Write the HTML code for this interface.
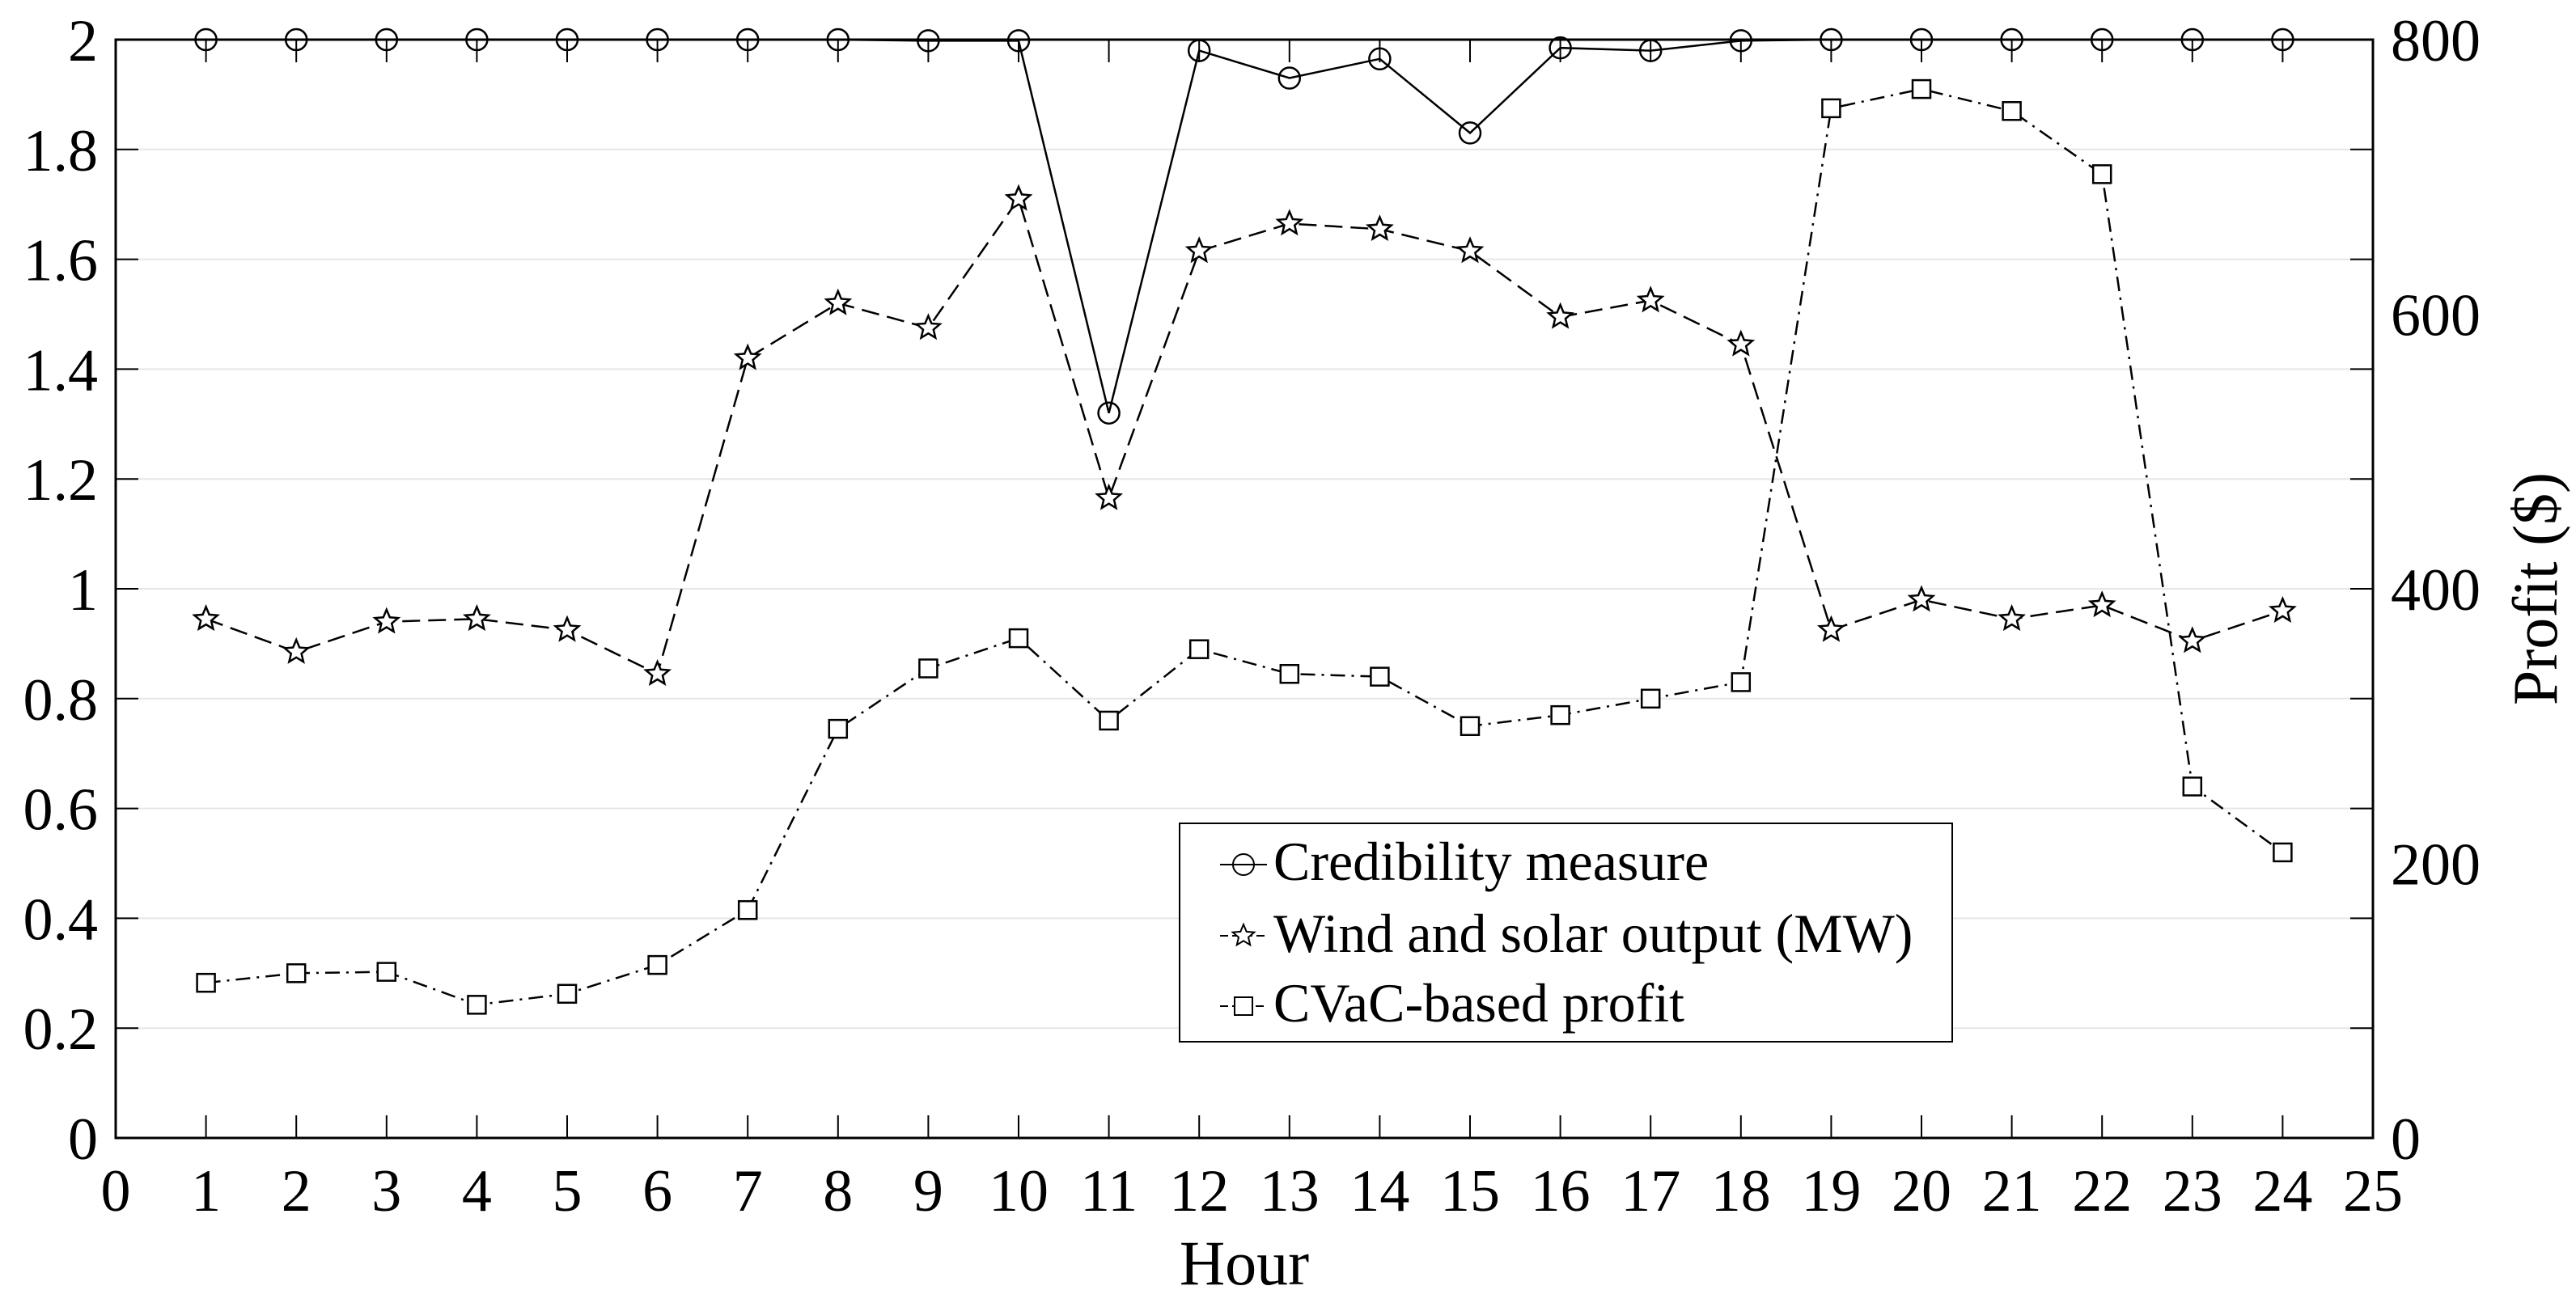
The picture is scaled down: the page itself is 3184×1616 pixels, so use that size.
<!DOCTYPE html>
<html><head><meta charset="utf-8"><style>
html,body{margin:0;padding:0;background:#fff}
svg{display:block}
svg text{font-family:"Liberation Serif","Times New Roman","DejaVu Serif",serif}
</style></head><body>
<svg id="chart" width="3184" height="1616" viewBox="0 0 3184 1616" xmlns="http://www.w3.org/2000/svg" font-family="Liberation Serif, Times New Roman, DejaVu Serif, serif">
<g id="grid"></g>
<g id="axes"></g>
<g id="series"></g>
<text x="1538" y="1588" font-size="78" font-family="Liberation Serif, serif" text-anchor="middle">Hour</text>
<text x="0" y="0" font-size="78" font-family="Liberation Serif, serif" text-anchor="middle" transform="translate(3160,728) rotate(-90)">Profit ($)</text>
<g>
<rect x="1458" y="1018" width="955" height="270" fill="#fff" stroke="#000" stroke-width="2"/>
<g>
<line x1="1508" y1="1069" x2="1566" y2="1069" stroke="#000" stroke-width="2"/>
<circle cx="1537" cy="1069" r="13" fill="none" stroke="#000" stroke-width="2"/>
<text x="1574" y="1088" font-size="68" font-family="Liberation Serif, serif">Credibility measure</text></g>
<g>
<line x1="1508" y1="1157" x2="1566" y2="1157" stroke="#000" stroke-width="2" stroke-dasharray="10,5"/>
<polygon id="legStar" points="" fill="#fff" stroke="#000" stroke-width="2"/>
<text x="1574" y="1177" font-size="68" font-family="Liberation Serif, serif">Wind and solar output (MW)</text></g>
<g>
<line x1="1508" y1="1244" x2="1566" y2="1244" stroke="#000" stroke-width="2" stroke-dasharray="10,5,2,5"/>
<rect x="1526" y="1233" width="22" height="22" fill="#fff" stroke="#000" stroke-width="2"/>
<text x="1574" y="1263" font-size="68" font-family="Liberation Serif, serif">CVaC-based profit</text></g>
</g>
</svg>
<script>
const hours = [1,2,3,4,5,6,7,8,9,10,11,12,13,14,15,16,17,18,19,20,21,22,23,24];
const credibility = [2,2,2,2,2,2,2,2,1.998,1.998,1.32,1.98,1.93,1.965,1.83,1.985,1.98,1.998,2,2,2,2,2,2];
const windSolar = [0.945,0.885,0.94,0.945,0.925,0.845,1.42,1.52,1.475,1.71,1.165,1.615,1.665,1.655,1.615,1.495,1.525,1.445,0.925,0.98,0.945,0.97,0.905,0.96];
const profit = [113,120,121,97,105,126,166,298,342,364,304,356,338,336,300,308,320,332,750,764,748,702,256,208];
const xTicks = [0,1,2,3,4,5,6,7,8,9,10,11,12,13,14,15,16,17,18,19,20,21,22,23,24,25];
const yLeftTicks = [0,0.2,0.4,0.6,0.8,1,1.2,1.4,1.6,1.8,2];
const yRightTicks = [0,200,400,600,800];

const L=143,R=2933,T=49,B=1407;
const NS='http://www.w3.org/2000/svg';
const FF='Liberation Serif, Times New Roman, DejaVu Serif, serif';
const xS=v=>L+(v-0)/25*(R-L);
const yL=v=>B-(v/2)*(B-T);
const yR=v=>B-(v/800)*(B-T);
function mk(tag,attrs,parent){const e=document.createElementNS(NS,tag);for(const k in attrs)e.setAttribute(k,attrs[k]);parent.appendChild(e);return e;}
const grid=document.getElementById('grid'),axes=document.getElementById('axes'),series=document.getElementById('series');
function starPts(cx,cy,r){let p=[];for(let i=0;i<10;i++){const a=-Math.PI/2+i*Math.PI/5;const rr=i%2?r*0.45:r;p.push((cx+rr*Math.cos(a)).toFixed(1)+','+(cy+rr*Math.sin(a)).toFixed(1));}return p.join(' ');}
document.getElementById('legStar').setAttribute('points',starPts(1537,1157,14));

yLeftTicks.forEach(v=>{
  const y=yL(v);
  if(v>0&&v<2){const g=mk('line',{x1:L,x2:R,y1:y,y2:y,stroke:'#e6e6e6','stroke-width':2},grid);
  
  }
  const t=mk('line',{x1:L,x2:L+28,y1:y,y2:y,stroke:'#000','stroke-width':2},axes);
  
  
  const t2=mk('line',{x1:R-28,x2:R,y1:y,y2:y,stroke:'#000','stroke-width':2},axes);
  
  
  const lb=mk('text',{x:L-22,y:y+26,'font-size':74,'font-family':FF,'text-anchor':'end'},axes);
  lb.textContent=String(v);
  
  
});
yRightTicks.forEach(v=>{
  const y=yR(v);
  const lb=mk('text',{x:R+22,y:y+26,'font-size':74,'font-family':FF,'text-anchor':'start'},axes);
  lb.textContent=String(v);
  
  
});
xTicks.forEach(v=>{
  const x=xS(v);
  const t=mk('line',{x1:x,x2:x,y1:B,y2:B-28,stroke:'#000','stroke-width':2},axes);
  
  
  const t2=mk('line',{x1:x,x2:x,y1:T,y2:T+28,stroke:'#000','stroke-width':2},axes);
  
  
  const lb=mk('text',{x:x,y:1497,'font-size':74,'font-family':FF,'text-anchor':'middle'},axes);
  lb.textContent=String(v);
  
  
});
const frame=mk('rect',{x:L,y:T,width:R-L,height:B-T,fill:'none',stroke:'#000','stroke-width':3},axes);



function drawLine(vals,ys,dash,name){
  const pts=vals.map((v,i)=>xS(hours[i]).toFixed(1)+','+ys(v).toFixed(1)).join(' ');
  const pl=mk('polyline',{points:pts,fill:'none',stroke:'#000','stroke-width':2.5},series);
  if(dash)pl.setAttribute('stroke-dasharray',dash);
  
  
}
drawLine(credibility,yL,null,'credibility-line');
drawLine(windSolar,yL,'22,10','wind-solar-line');
drawLine(profit,yR,'18,8,3,8','profit-line');
credibility.forEach((v,i)=>{
  const c=mk('circle',{cx:xS(hours[i]),cy:yL(v),r:13,fill:'none',stroke:'#000','stroke-width':2.5},series);
  
  
});
windSolar.forEach((v,i)=>{
  const s=mk('polygon',{points:starPts(xS(hours[i]),yL(v),15),fill:'#fff',stroke:'#000','stroke-width':2.5},series);
  
  
});
profit.forEach((v,i)=>{
  const r=mk('rect',{x:xS(hours[i])-11,y:yR(v)-11,width:22,height:22,fill:'#fff',stroke:'#000','stroke-width':2.5},series);
  
  
});
</script>
</body></html>
